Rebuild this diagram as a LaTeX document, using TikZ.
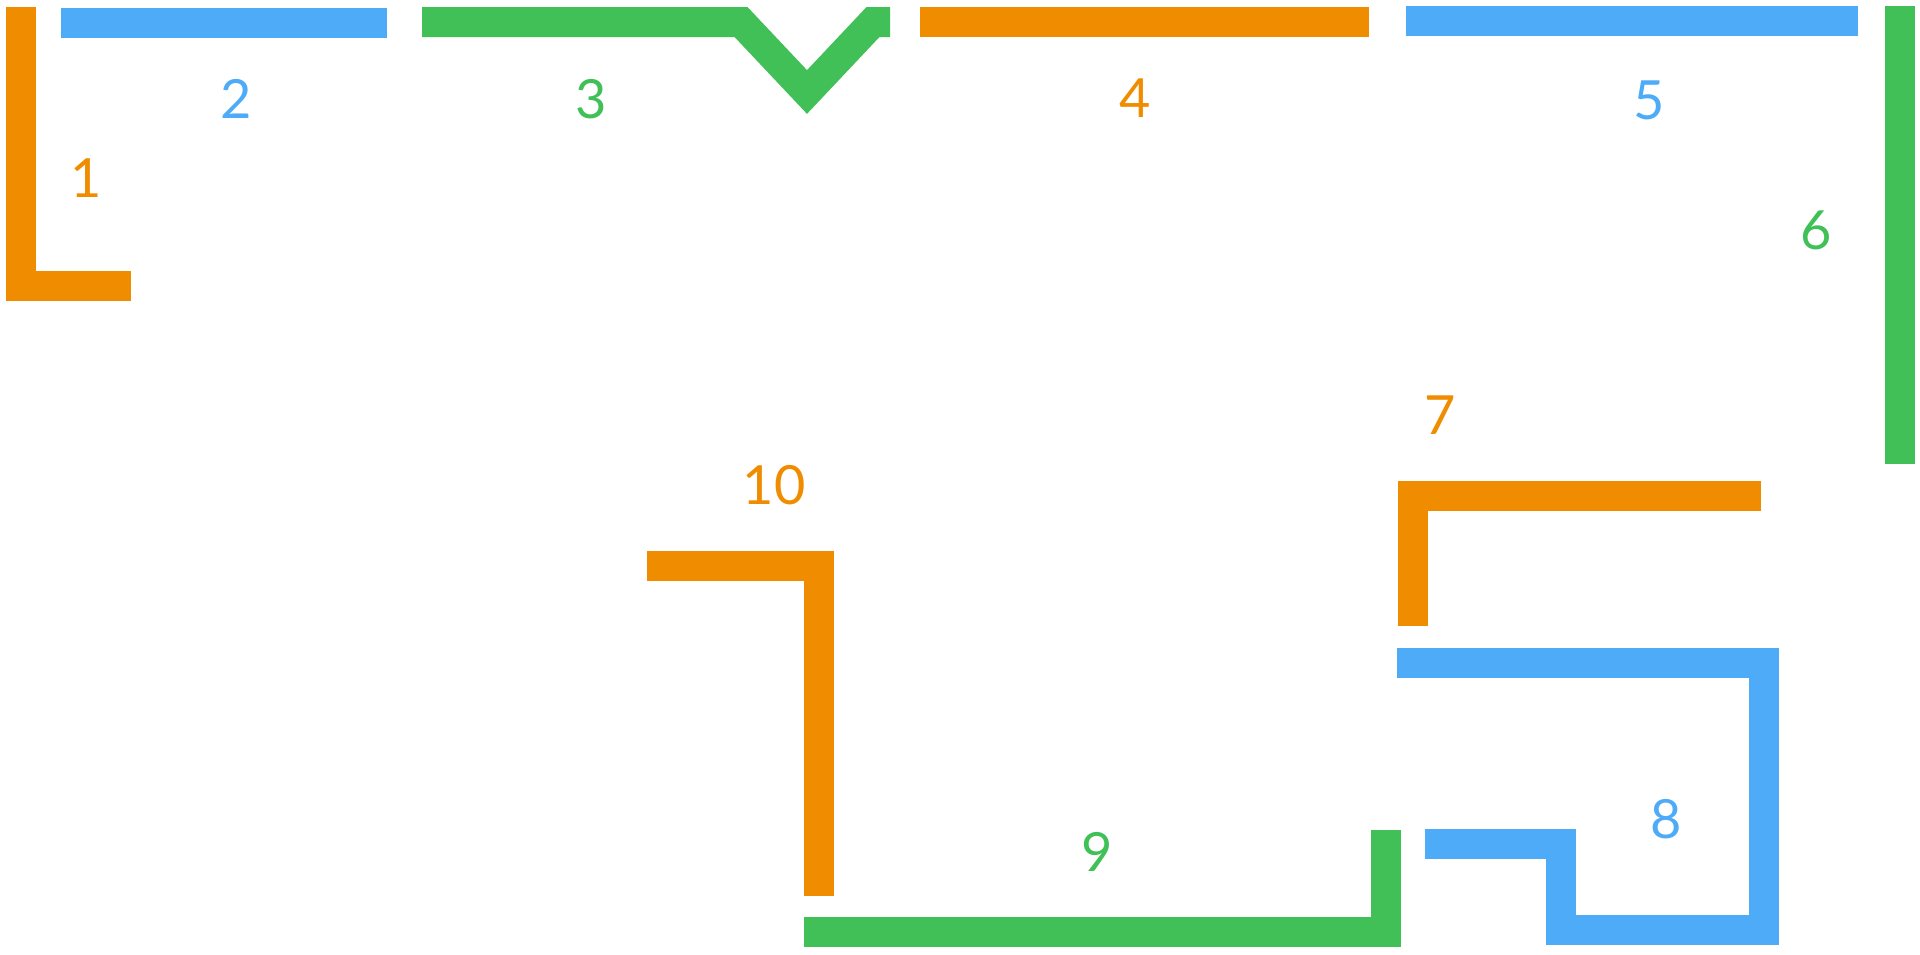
\documentclass[tikz,border=0pt]{standalone}
\usepackage{fontspec}
\setmainfont{Lato}
\definecolor{exorange}{HTML}{F08C00}
\definecolor{exblue}{HTML}{4DABF7}
\definecolor{exgreen}{HTML}{40C057}
\begin{document}
\begin{tikzpicture}[x=1pt,y=-1pt,
  wall/.style={line width=30pt, line join=miter, line cap=butt},
  lbl/.style={font=\fontsize{54}{58}\selectfont, inner sep=0pt}]
\useasboundingbox (0,0) rectangle (1920,954);
% 1
\draw[wall, exorange] (21,7) -- (21,285.5) -- (131,285.5);
\node[lbl, text=exorange] (l1) at (86,178) {1};
% 2
\draw[wall, exblue] (61,22.5) -- (387,22.5);
\node[lbl, text=exblue] (l2) at (236,99) {2};
% 3
\draw[wall, exgreen] (422,22) -- (741,22) -- (807,92) -- (873,22) -- (890,22);
\node[lbl, text=exgreen] (l3) at (591,99) {3};
% 4
\draw[wall, exorange] (920,21.5) -- (1369,21.5);
\node[lbl, text=exorange] (l4) at (1135,98) {4};
% 5
\draw[wall, exblue] (1406,20.5) -- (1858,20.5);
\node[lbl, text=exblue] (l5) at (1649,100) {5};
% 6
\draw[wall, exgreen] (1900,6) -- (1900,464);
\node[lbl, text=exgreen] (l6) at (1816,230) {6};
% 7
\draw[wall, exorange] (1413,626) -- (1413,495.5) -- (1761,495.5);
\node[lbl, text=exorange] (l7) at (1440,415) {7};
% 8
\draw[wall, exblue] (1397,663) -- (1764,663) -- (1764,930) -- (1561,930) -- (1561,844) -- (1425,844);
\node[lbl, text=exblue] (l8) at (1666,819) {8};
% 9
\draw[wall, exgreen] (804,932) -- (1385.5,932) -- (1385.5,830);
\node[lbl, text=exgreen] (l9) at (1097,852) {9};
% 10
\draw[wall, exorange] (647,565.5) -- (819,565.5) -- (819,896);
\node[lbl, text=exorange] (l10) at (774,485) {10};
\end{tikzpicture}
\end{document}
